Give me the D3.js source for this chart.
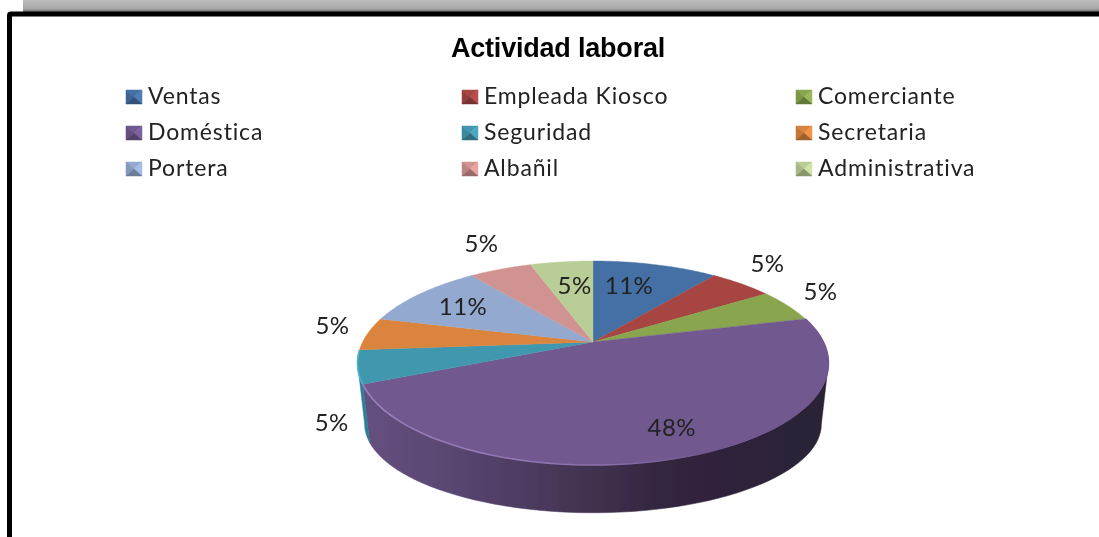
<!DOCTYPE html>
<html><head><meta charset="utf-8">
<script src="https://cdnjs.cloudflare.com/ajax/libs/d3/7.8.5/d3.min.js"></script>
<style>html,body{margin:0;padding:0;background:#fff;overflow:hidden}svg{display:block}</style>
</head><body><svg id="c" width="1099" height="537"></svg>
<script>
const chartTitle = "Actividad laboral";
const categories = ["Ventas","Empleada Kiosco","Comerciante","Doméstica","Seguridad","Secretaria","Portera","Albañil","Administrativa"];
const values = [10.5,5.25,5.25,47.5,5.25,5.25,10.5,5.25,5.25];
const colors = ["#4470a5","#a64543","#89a54e","#71588f","#4198af","#db843d","#93a9cf","#d19392","#b9cd96"];
const wallColors = ["#2f5278","#7a3230","#64793a","url(#wall)","#2c7f96","#a3622c","#6b7d9b","#9b6c6b","#889770"];
const labelNudges = [[-26.5,21],[26,-20],[33,-14],[-14,-29],[-26,56],[-35,-8],[43,13],[-19,-26],[13,23]];

const svg = d3.select("#c");
const defs = svg.append("defs");
const blur = defs.append("filter").attr("id","soft").attr("x","-5%").attr("y","-20%").attr("width","110%").attr("height","140%");
blur.append("feGaussianBlur").attr("stdDeviation",0.5);

const shade = defs.append("linearGradient").attr("id","shadow").attr("x1",0).attr("y1",0).attr("x2",0).attr("y2",1);
shade.append("stop").attr("offset","0%").attr("stop-color","#bdbdbd");
shade.append("stop").attr("offset","70%").attr("stop-color","#a8a8a8");
shade.append("stop").attr("offset","100%").attr("stop-color","#6e6e6e");

const wall = defs.append("linearGradient").attr("id","wall").attr("gradientUnits","userSpaceOnUse")
  .attr("x1",365).attr("x2",825).attr("y1",0).attr("y2",0);
[[0,"#655080"],[0.25,"#54426b"],[0.5,"#41314f"],[0.65,"#32253f"],[1,"#2a2035"]].forEach(([o,c])=>
  wall.append("stop").attr("offset",o).attr("stop-color",c));
const rim = defs.append("linearGradient").attr("id","rim").attr("gradientUnits","userSpaceOnUse")
  .attr("x1",365).attr("x2",700).attr("y1",0).attr("y2",0);
rim.append("stop").attr("offset",0).attr("stop-color","#9a80bd");
rim.append("stop").attr("offset",0.7).attr("stop-color","#8a70ab");
rim.append("stop").attr("offset",1).attr("stop-color","#71588f");

// page frame
svg.append("rect").attr("x",23).attr("y",0).attr("width",1076).attr("height",12).attr("fill","url(#shadow)");
svg.append("path").attr("d","M1099 14H11Q9.5 14 9.5 15.5V537").attr("fill","none").attr("stroke","#000").attr("stroke-width",5);

// title
const font = "Lato, 'Open Sans', sans-serif";
svg.append("text").attr("x",558).attr("y",57).attr("text-anchor","middle")
  .attr("font-family","'Liberation Sans', Arial, sans-serif").attr("font-weight",700).attr("font-size",27)
  .attr("letter-spacing","-0.2px").attr("fill","#000").attr("filter","url(#soft)").text(chartTitle);

// legend, 3 columns × 3 rows
const col = d3.scaleOrdinal().domain([0,1,2]).range([126,462,796]);
const row = d3.scalePoint().domain([0,1,2]).range([96,168]);
const sw = 16;
const legend = svg.append("g").attr("filter","url(#soft)").selectAll("g").data(categories).join("g")
  .attr("transform",(d,i)=>`translate(${col(i%3)},${row(Math.floor(i/3))})`);
legend.each(function(d,i){
  const g = d3.select(this), c = d3.color(colors[i]);
  const h = 7, w = sw, y0 = -6;
  const tri = (pts,fill)=>g.append("path").attr("d",d3.line()(pts)+"Z").attr("fill",fill).attr("stroke",fill).attr("stroke-width",0.5);
  tri([[0,y0],[w,y0],[w/2,y0+h]],c.formatHex());
  tri([[0,y0],[w/2,y0+h],[0,y0+14]],c.darker(0.3).formatHex());
  tri([[w,y0],[w,y0+14],[w/2,y0+h]],c.brighter(0.3).formatHex());
  tri([[0,y0+14],[w,y0+14],[w/2,y0+h]],c.darker(0.9).formatHex());
});
legend.append("text").attr("x",22).attr("y",8).attr("font-family",font).attr("font-size",23)
  .attr("letter-spacing","0.85px").attr("fill","#222").text(d=>d);

// 3-D pie: top face in perspective, apex off the ellipse centre
const apexX = 593, apexY = 342, persp = 0.206, radiusX = 230.4, radiusY = 97.7;
const project = (phi,r=1)=>{
  const X = r*Math.sin(phi), Z = r*Math.cos(phi), d = 1+persp*Z;
  return [apexX+radiusX*X/d, apexY-radiusY*Z/d];
};
const ellipseCy = 363, depthCy = 424, depthScaleX = 0.97, depthScaleY = 0.87;
const lower = ([x,y])=>[apexX+depthScaleX*(x-apexX), depthCy+depthScaleY*(y-ellipseCy)];
const pie = d3.pie().sort(null).value(d=>d)(values);
const samples = (a,b)=>d3.range(0,61).map(t=>a+(b-a)*t/60);
const line = d3.line();
const wallFrom = Math.acos(-persp), wallTo = 2*Math.PI-wallFrom;

const chart = svg.append("g").attr("filter","url(#soft)");
// outer walls, only between the two silhouette tangents
pie.forEach((s,i)=>{
  const a = Math.max(s.startAngle,wallFrom), b = Math.min(s.endAngle,wallTo);
  if (b<=a) return;
  const top = samples(a,b).map(p=>project(p));
  chart.append("path").attr("d",line(top.concat(top.map(lower).reverse()))+"Z")
    .attr("fill",wallColors[i]).attr("stroke",wallColors[i]).attr("stroke-width",0.5);
});
// top faces
pie.forEach((s,i)=>{
  const rimPts = samples(s.startAngle,s.endAngle).map(p=>project(p));
  chart.append("path").attr("d",line([[apexX,apexY],...rimPts])+"Z")
    .attr("fill",colors[i]).attr("stroke",colors[i]).attr("stroke-width",0.4);
});
// bevel on front edge of the big slice
const big = pie[3];
chart.append("path").attr("fill","none").attr("stroke","url(#rim)").attr("stroke-width",1.6)
  .attr("d",line(samples(big.startAngle,big.endAngle).map(p=>project(p))));
const teal = pie[4];
chart.append("path").attr("fill","none").attr("stroke","#4fb0c8").attr("stroke-width",1.6)
  .attr("d",line(samples(teal.startAngle,teal.endAngle).map(p=>project(p))));

// data labels
svg.append("g").attr("filter","url(#soft)").selectAll("text").data(pie).join("text")
  .attr("transform",(s,i)=>{
    const [x,y] = project((s.startAngle+s.endAngle)/2);
    return `translate(${x+labelNudges[i][0]},${y+labelNudges[i][1]})`;
  })
  .attr("text-anchor","middle").attr("dy","0.36em")
  .attr("font-family",font).attr("font-size",24).attr("letter-spacing","0.4px").attr("fill","#222")
  .text(s=>Math.round(s.data)+"%");
</script></body></html>
